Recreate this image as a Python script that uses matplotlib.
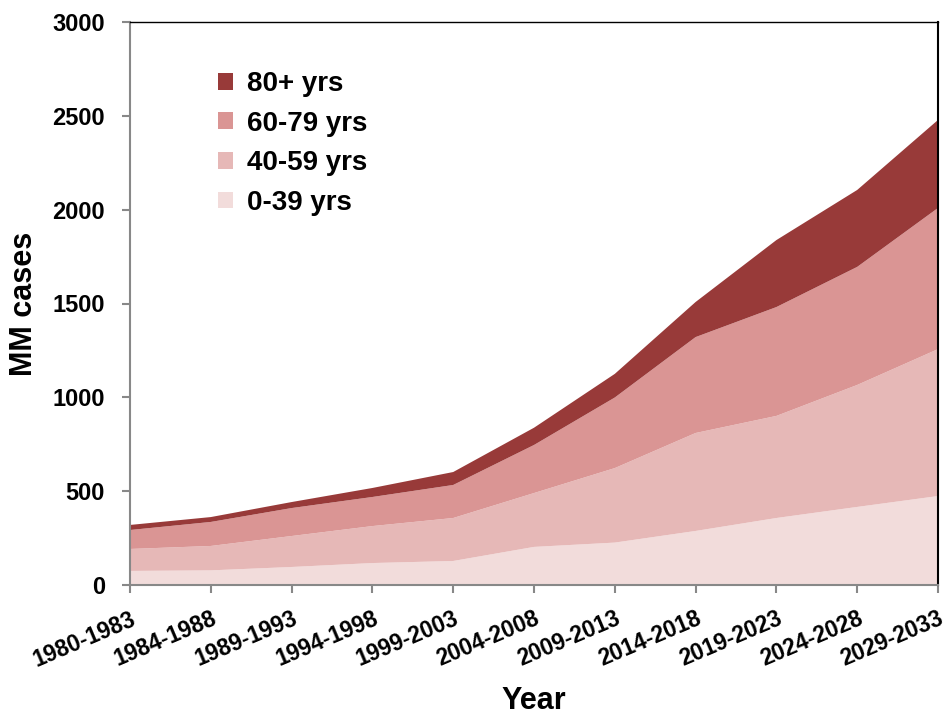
import matplotlib
matplotlib.use("Agg")
import matplotlib.pyplot as plt
import numpy as np

periods = ["1980-1983", "1984-1988", "1989-1993", "1994-1998", "1999-2003",
           "2004-2008", "2009-2013", "2014-2018", "2019-2023", "2024-2028", "2029-2033"]
age_0_39 = [75, 78, 96, 117, 128, 203, 226, 288, 357, 416, 474]
age_40_59 = [117, 130, 165, 197, 229, 287, 397, 522, 544, 650, 783]
age_60_79 = [101, 128, 149, 155, 176, 256, 376, 511, 580, 629, 752]
age_80p = [27, 26, 32, 48, 69, 92, 126, 187, 357, 410, 469]
labels = ["0-39 yrs", "40-59 yrs", "60-79 yrs", "80+ yrs"]
colors = ["#F2DCDB", "#E6B8B7", "#DA9594", "#983A39"]
yticks = [0, 500, 1000, 1500, 2000, 2500, 3000]

plt.rcParams['font.family'] = ['Liberation Sans', 'DejaVu Sans']

W, H = 948, 717
fig = plt.figure(figsize=(W/100, H/100), dpi=100)
ax = fig.add_axes([130/W, 1-585/H, (938-130)/W, (585-22)/H])

x = np.arange(len(periods))
ax.stackplot(x, age_0_39, age_40_59, age_60_79, age_80p,
             colors=colors, labels=labels, linewidth=0)

ax.set_xlim(0, len(periods)-1)
ax.set_ylim(0, 3000)
ax.set_yticks(yticks)
ax.set_yticklabels([str(v) for v in yticks], fontsize=17, fontweight='bold')
ax.set_xticks(x)
ax.set_xticklabels(periods, rotation=23, ha='right', rotation_mode='anchor',
                   fontsize=16.5, fontweight='bold')

for s in ['left', 'bottom']:
    ax.spines[s].set_color('#888888')
    ax.spines[s].set_linewidth(1.5)
ax.spines['top'].set_color('black')
ax.spines['top'].set_linewidth(1.0)
ax.spines['right'].set_color('black')
ax.spines['right'].set_linewidth(1.5)
ax.tick_params(axis='both', direction='out', color='#888888', width=1.5, length=6)
ax.tick_params(axis='y', pad=12)
ax.tick_params(axis='x', pad=10)

ax.set_ylabel("MM cases", fontsize=22, fontweight='bold')
ax.yaxis.set_label_coords((39-130)/808, 0.5)
ax.set_xlabel("Year", fontsize=22, fontweight='bold')
ax.xaxis.set_label_coords(0.5, (585-686)/563)

handles, labs = ax.get_legend_handles_labels()
leg = fig.legend(handles[::-1], labs[::-1], loc='upper left',
                 bbox_to_anchor=(218/W, 1-71/H), frameon=False,
                 prop={'size': 20, 'weight': 'bold'},
                 handlelength=0.55, handleheight=0.55, labelspacing=0.49,
                 handletextpad=0.5, borderpad=0, borderaxespad=0)

fig.savefig("out.png", dpi=100)
